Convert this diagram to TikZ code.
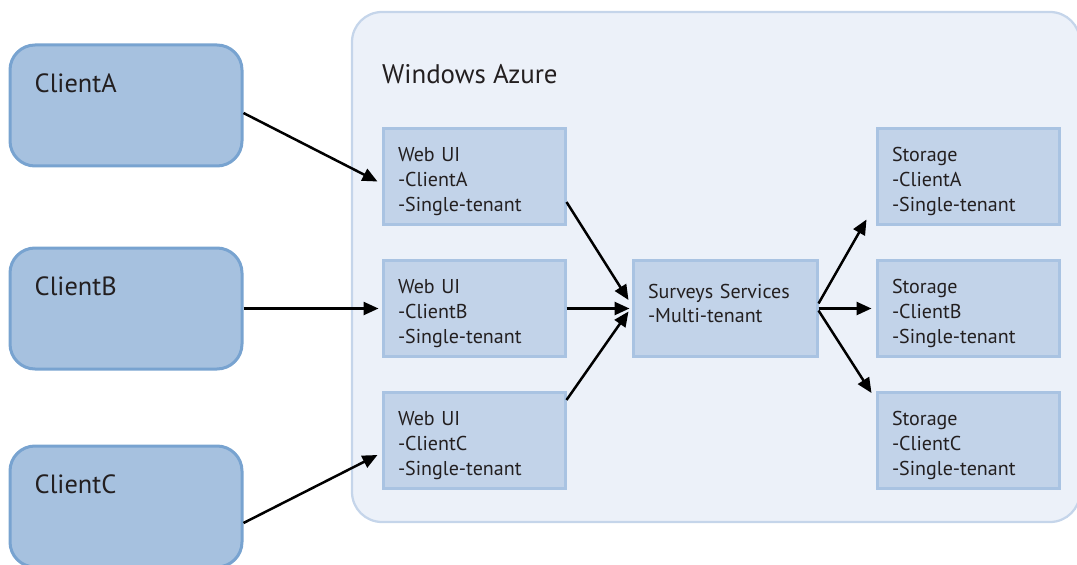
\documentclass[tikz,border=0pt]{standalone}
\usepackage{fontspec}
\setmainfont{PT Sans}
\usetikzlibrary{arrows.meta}
\definecolor{clientfill}{RGB}{166,193,223}
\definecolor{clientline}{RGB}{120,163,208}
\definecolor{azurefill}{RGB}{236,241,249}
\definecolor{azureline}{RGB}{197,213,234}
\definecolor{boxfill}{RGB}{194,211,233}
\definecolor{boxline}{RGB}{169,195,226}
\definecolor{textgray}{RGB}{35,31,32}
\begin{document}
\begin{tikzpicture}[
    client/.style={draw=clientline, fill=clientfill, line width=0.06cm, rounded corners=0.5cm,
        minimum width=4.64cm, minimum height=2.42cm},
    clientname/.style={anchor=base west, xshift=0.4cm, yshift=-0.98cm,
        font=\fontsize{15}{18}\selectfont, text=textgray},
    region/.style={draw=azureline, fill=azurefill, line width=0.045cm, rounded corners=0.6cm,
        minimum width=14.56cm, minimum height=10.2cm},
    regionname/.style={anchor=base west, xshift=0.5cm, yshift=-1.46cm,
        font=\fontsize{15.3}{18}\selectfont, text=textgray},
    box/.style={draw=boxline, fill=boxfill, line width=0.06cm, minimum width=3.64cm,
        minimum height=1.92cm, text width=3.04cm, inner xsep=0.3cm, align=left,
        font=\fontsize{11.4}{14.2}\selectfont, text=textgray,
        execute at begin node={\rule{0pt}{0.48cm}}},
    link/.style={line width=0.05cm, -{Triangle[length=0.3cm, width=0.26cm]}}
]
    \useasboundingbox (0,0) rectangle (21.54,11.28);

    \node [region, label={[regionname]north west:Windows Azure}] (azure) at (14.32,5.94) {};

    \node [client, label={[clientname]north west:ClientA}] (clientA) at (2.52,9.17) {};
    \node [client, label={[clientname]north west:ClientB}] (clientB) at (2.52,5.11) {};
    \node [client, label={[clientname]north west:ClientC}] (clientC) at (2.52,1.15) {};

    \node [box] (webA) at (9.48,7.74) {Web UI\\-ClientA\\-Single-tenant};
    \node [box] (webB) at (9.48,5.11) {Web UI\\-ClientB\\-Single-tenant};
    \node [box] (webC) at (9.48,2.47) {Web UI\\-ClientC\\-Single-tenant};

    \node [box, minimum width=3.68cm, text width=3.08cm, execute at begin node={},
        execute at end node={\rule[-0.4cm]{0pt}{0pt}}] (surveys) at (14.5,5.11)
        {Surveys Services\\-Multi-tenant};

    \node [box] (storeA) at (19.36,7.74) {Storage\\-ClientA\\-Single-tenant};
    \node [box] (storeB) at (19.36,5.11) {Storage\\-ClientB\\-Single-tenant};
    \node [box] (storeC) at (19.36,2.47) {Storage\\-ClientC\\-Single-tenant};

    \draw [link] ([yshift=-0.15cm]clientA.east) -- ([xshift=-0.08cm, yshift=-0.09cm]webA.west);
    \draw [link] (clientB.east) -- ([xshift=-0.06cm]webB.west);
    \draw [link] ([yshift=-0.33cm]clientC.east) -- ([xshift=-0.08cm, yshift=-0.29cm]webC.west);

    \draw [link] ([yshift=-0.5cm]webA.east) -- ([xshift=-0.06cm, yshift=0.17cm]surveys.west);
    \draw [link] (webB.east) -- ([xshift=-0.04cm]surveys.west);
    \draw [link] ([yshift=0.81cm]webC.east) -- ([xshift=-0.06cm, yshift=-0.06cm]surveys.west);

    \draw [link] ([yshift=0.1cm]surveys.east) -- ([xshift=-0.18cm, yshift=0.14cm]storeA.south west);
    \draw [link] (surveys.east) -- ([xshift=-0.08cm]storeB.west);
    \draw [link] ([yshift=-0.04cm]surveys.east) -- ([xshift=-0.08cm, yshift=-0.04cm]storeC.north west);
\end{tikzpicture}
\end{document}
